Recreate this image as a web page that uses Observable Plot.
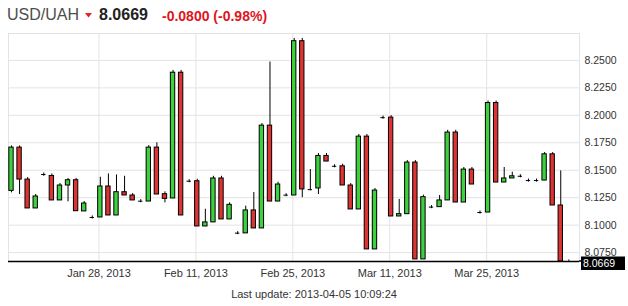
<!DOCTYPE html>
<html><head><meta charset="utf-8">
<script src="https://cdn.jsdelivr.net/npm/d3@7"></script>
<script src="https://cdn.jsdelivr.net/npm/@observablehq/plot@0.6"></script>
<style>
body{margin:0;background:#fff;}
#wrap{position:relative;width:628px;height:306px;font-family:"Liberation Sans",Arial,sans-serif;overflow:hidden;background:#fff;}
.t{position:absolute;line-height:24px;white-space:nowrap;}
#chart{position:absolute;left:0;top:0;}
#cap{position:absolute;left:0;top:287px;width:628px;text-align:center;font-size:11px;line-height:14px;color:#333;}
</style></head><body>
<div id="wrap">
  <div id="chart"></div>
  <div class="t" id="sym" style="left:7px;top:3px;font-size:16px;color:#4d4d4d"></div>
  <svg style="position:absolute;left:85px;top:13px" width="7" height="5"><polygon points="0,0 7,0 3.5,4.5" fill="#e0262b"/></svg>
  <div class="t" id="last" style="left:99px;top:3px;font-size:16px;font-weight:bold;color:#222"></div>
  <div class="t" id="chg" style="left:162px;top:4px;font-size:14px;font-weight:bold;color:#e0141e"></div>
  <div id="cap"></div>
</div>
<script>
const symbol = "USD/UAH";
const lastPrice = 8.0669;
const changeText = "-0.0800 (-0.98%)";
const updateText = "Last update: 2013-04-05 10:09:24";

const open = [8.1312,8.1706,8.1415,8.1152,8.1461,8.1448,8.1225,8.1361,8.1409,8.1125,
  8.1070,8.1070,8.1352,8.1088,8.1300,8.1270,8.1218,8.1215,8.1706,8.1282,
  8.1243,8.2388,8.1400,8.1400,8.0988,8.1025,8.1425,8.1052,8.0927,8.0925,
  8.1134,8.0970,8.1906,8.1215,8.1273,8.1270,8.2675,8.1323,8.1334,8.1630,
  8.1536,8.1536,8.1361,8.1143,8.1806,8.0779,8.1979,8.1979,8.1079,8.1100,
  8.1570,8.0688,8.1164,8.1164,8.1225,8.1843,8.1206,8.1506,8.1115,8.1115,
  8.2112,8.1388,8.1425,8.1445,8.1406,8.1406,8.1406,8.1645,8.1179,8.0669];
const close = [8.1706,8.1415,8.1152,8.1261,8.1461,8.1225,8.1361,8.1409,8.1127,8.1197,
  8.1070,8.1352,8.1088,8.1300,8.1270,8.1225,8.1218,8.1706,8.1279,8.1239,
  8.2388,8.1088,8.1400,8.0988,8.1025,8.1425,8.1052,8.1185,8.0927,8.1134,
  8.0970,8.1906,8.1215,8.1370,8.1273,8.2675,8.1325,8.1323,8.1630,8.1579,
  8.1536,8.1361,8.1143,8.1806,8.0779,8.1315,8.1979,8.1079,8.1100,8.1570,
  8.0688,8.1255,8.1164,8.1225,8.1843,8.1206,8.1506,8.1370,8.1115,8.2112,
  8.1388,8.1425,8.1445,8.1445,8.1406,8.1406,8.1645,8.1179,8.0669,8.0669];
const high = [8.1721,8.1721,8.1434,8.1279,8.1475,8.1466,8.1379,8.1425,8.1425,8.1215,
  8.1084,8.1436,8.1466,8.1457,8.1445,8.1288,8.1232,8.1725,8.1750,8.1303,
  8.2409,8.2409,8.1414,8.1418,8.1145,8.1445,8.1445,8.1203,8.0941,8.1173,
  8.1297,8.1925,8.2485,8.1391,8.1287,8.2700,8.2700,8.1506,8.1652,8.1652,
  8.1550,8.1555,8.1379,8.1825,8.1825,8.1334,8.1993,8.1997,8.1234,8.1588,
  8.1588,8.1273,8.1178,8.1270,8.1864,8.1864,8.1525,8.1525,8.1129,8.2130,
  8.2130,8.1525,8.1482,8.1459,8.1420,8.1420,8.1661,8.1661,8.1494,8.0683];
const low = [8.1294,8.1279,8.1152,8.1152,8.1445,8.1225,8.1225,8.1212,8.1127,8.1125,
  8.1056,8.1070,8.1088,8.1088,8.1270,8.1225,8.1204,8.1215,8.1279,8.1203,
  8.1243,8.1088,8.1386,8.0988,8.0988,8.1025,8.1052,8.1052,8.0913,8.0925,
  8.0970,8.0970,8.1215,8.1215,8.1259,8.1270,8.1250,8.1314,8.1279,8.1579,
  8.1522,8.1361,8.1143,8.1143,8.0779,8.0779,8.1965,8.1079,8.1079,8.1100,
  8.0688,8.0688,8.1150,8.1164,8.1225,8.1206,8.1206,8.1370,8.1101,8.1115,
  8.1388,8.1388,8.1425,8.1431,8.1392,8.1392,8.1406,8.1179,8.0669,8.0669];

const yTicks = [8.075, 8.1, 8.125, 8.15, 8.175, 8.2, 8.225, 8.25];
const dateTickIdx = [10.83, 22.83, 34.83, 46.83, 58.83];
const dateLabels = ["Jan 28, 2013", "Feb 11, 2013", "Feb 25, 2013", "Mar 11, 2013", "Mar 25, 2013"];

const green = "#3dd13d", red = "#dd3333";
const hw = 0.27;

document.getElementById("sym").textContent = symbol;
document.getElementById("last").textContent = d3.format(".4f")(lastPrice);
document.getElementById("chg").textContent = changeText;
document.getElementById("cap").textContent = updateText;

const data = open.map((o, i) => ({i, open: o, high: high[i], low: low[i], close: close[i]}));
const up = data.filter(d => d.close > d.open);
const down = data.filter(d => d.close < d.open);
const doji = data.filter(d => d.close === d.open);
const grid = "#e3e3e3";

const plot = Plot.plot({
  width: 628, height: 306,
  marginTop: 33, marginBottom: 45, marginLeft: 8, marginRight: 49,
  style: {fontFamily: '"Liberation Sans", Arial, sans-serif', background: "transparent", color: "#333", overflow: "visible"},
  x: {domain: [-0.37, 70.32]},
  y: {domain: [lastPrice, 8.2745]},
  marks: [
    Plot.gridY(yTicks, {stroke: grid, strokeOpacity: 1}),
    Plot.gridX(dateTickIdx, {stroke: grid, strokeOpacity: 1}),
    Plot.frame({stroke: grid}),
    Plot.ruleX(data, {x: "i", y1: "low", y2: "high", stroke: "#000", strokeWidth: 1}),
    Plot.rect(up, {x1: d => d.i - hw, x2: d => d.i + hw, y1: "open", y2: "close", fill: green, stroke: "#000", strokeWidth: 1}),
    Plot.rect(down, {x1: d => d.i - hw, x2: d => d.i + hw, y1: "open", y2: "close", fill: red, stroke: "#000", strokeWidth: 1}),
    Plot.ruleY(doji, {y: "close", x1: d => d.i - hw, x2: d => d.i + hw, stroke: "#000", strokeWidth: 1}),
    Plot.ruleY([lastPrice], {stroke: "#000", strokeWidth: 1.5}),
    Plot.axisY(yTicks, {anchor: "right", tickSize: 0, tickPadding: 5, tickFormat: d3.format(".4f"), fontSize: 10.5, fill: "#333", label: null}),
    Plot.axisX(dateTickIdx, {anchor: "bottom", tickSize: 0, tickPadding: 8, tickFormat: d => dateLabels[dateTickIdx.indexOf(d)], fontSize: 11, fill: "#333", label: null}),
    (index, scales, values, dimensions) => {
      const y = scales.y(lastPrice);
      const x0 = dimensions.width - dimensions.marginRight;
      const g = d3.create("svg:g");
      g.append("line").attr("x1", x0).attr("x2", x0 + 3).attr("y1", y).attr("y2", y).attr("stroke", "#000").attr("stroke-width", 1.5);
      g.append("rect").attr("x", x0 + 2).attr("y", y - 4.5).attr("width", 44).attr("height", 13.5).attr("fill", "#000");
      g.append("text").attr("x", x0 + 4).attr("y", y + 5.7).attr("fill", "#fff").attr("font-size", 10.5)
        .attr("text-anchor", "start")
        .attr("font-family", '"Liberation Sans", Arial, sans-serif').text(d3.format(".4f")(lastPrice));
      return g.node();
    }
  ]
});
document.getElementById("chart").appendChild(plot);
</script>
</body></html>
